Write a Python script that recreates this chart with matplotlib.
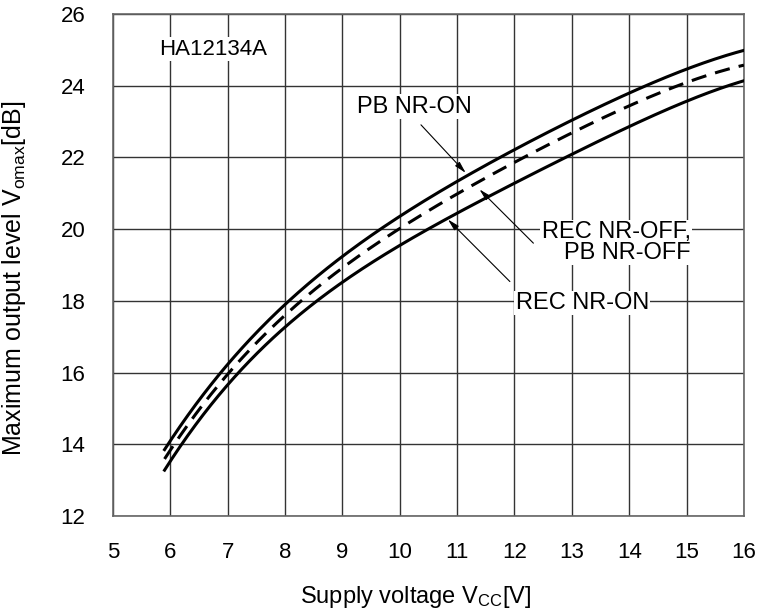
import numpy as np
import matplotlib
matplotlib.use("Agg")
import matplotlib.pyplot as plt

plt.rcParams['font.family'] = ['Liberation Sans', 'DejaVu Sans']
plt.rcParams['mathtext.fontset'] = 'custom'
plt.rcParams['mathtext.rm'] = 'Liberation Sans'
plt.rcParams['mathtext.it'] = 'Liberation Sans'

# supply voltage (V)
vcc = [5.9, 6, 7, 8, 9, 10, 11, 12, 13, 14, 15, 16]
# maximum output level (dB)
pb_nr_on = [13.9, 14.04, 16.24, 17.91, 19.23, 20.36, 21.32, 22.2, 23.08, 23.8, 24.43, 25.0]
nr_off = [13.6, 13.8, 16.02, 17.58, 18.9, 20.02, 20.93, 21.92, 22.72, 23.43, 24.04, 24.6]
rec_nr_on = [13.3, 13.48, 15.74, 17.2, 18.57, 19.47, 20.46, 21.35, 22.06, 22.86, 23.55, 24.15]

xticks = list(range(5, 17))
yticks = list(range(12, 27, 2))

fig = plt.figure(figsize=(7.63, 6.10), dpi=100)
ax = fig.add_axes([0.148, 0.154, 0.827, 0.823])

# smooth the read-off points for drawing
def smooth(xs, ys):
    xs = np.asarray(xs, float)
    ys = np.asarray(ys, float)
    xf = np.linspace(xs[0], xs[-1], 300)
    c = np.polyfit(xs, ys, 4)
    return xf, np.polyval(c, xf)

for ys, ls in [(pb_nr_on, '-'), (nr_off, (0, (5, 3))), (rec_nr_on, '-')]:
    xf, yf = smooth(vcc, ys)
    ax.plot(xf, yf, color='black', lw=2.2, linestyle=ls, zorder=3)

ax.set_xlim(5, 16)
ax.set_ylim(12, 26)
ax.set_xticks(xticks)
ax.set_yticks(yticks)
ax.grid(True, color='#333333', lw=1.0)
ax.set_axisbelow(True)
ax.tick_params(length=0, labelsize=16, pad=19)
ax.tick_params(axis='y', pad=20)
for s in ax.spines.values():
    s.set_color('#666666')
    s.set_linewidth(1.2)

ax.set_xlabel(r'Supply voltage V$_{\rm CC}$[V]', fontsize=17)
ax.set_ylabel(r'Maximum output level V$_{\rm omax}$[dB]', fontsize=18)
ax.xaxis.set_label_coords(0.479, -0.135)
ax.yaxis.set_label_coords(-0.135, 0.474)

box = dict(facecolor='white', edgecolor='none', pad=1)
ax.text(5.80, 25.02, 'HA12134A', fontsize=16, va='center', ha='left', bbox=box, zorder=4)

arrow = dict(arrowstyle='-|>,head_length=0.7,head_width=0.18', color='black',
             lw=0.8, shrinkA=0, shrinkB=0)
ax.annotate('', xy=(11.15, 21.57), xytext=(10.37, 22.91), arrowprops=arrow, zorder=5)
ax.text(10.25, 23.41, 'PB NR-ON', fontsize=17, ha='center', va='center', bbox=box, zorder=4)

ax.annotate('', xy=(11.39, 21.11), xytext=(12.33, 19.61), arrowprops=arrow, zorder=5)
ax.text(15.07, 19.63, 'REC NR-OFF,\nPB NR-OFF', fontsize=17, ha='right', va='center',
        multialignment='right', linespacing=0.9, bbox=box, zorder=4)

ax.annotate('', xy=(10.84, 20.27), xytext=(11.92, 18.54), arrowprops=arrow, zorder=5)
ax.text(13.18, 17.94, 'REC NR-ON', fontsize=17, ha='center', va='center', bbox=box, zorder=4)

fig.savefig('out.png', dpi=100)
